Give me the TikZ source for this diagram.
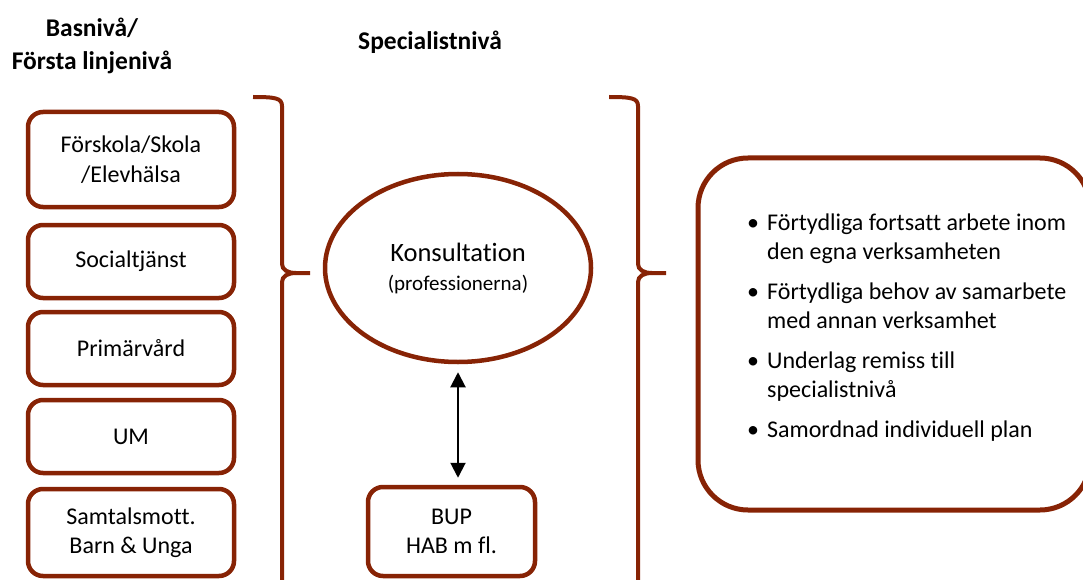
\documentclass[tikz,border=0pt]{standalone}
\usepackage{fontspec}
\setmainfont{Carlito}[Ligatures=CommonOff]
\usetikzlibrary{shapes.geometric,arrows.meta}
\definecolor{rust}{RGB}{135,35,5}
\tikzset{
  levelbox/.style={draw=rust, line width=4.5pt, rounded corners=15pt,
    minimum width=206pt, align=center, font=\fontsize{24}{29.5}\selectfont},
  bracket/.style={draw=rust, line width=4pt},
  heading/.style={font=\bfseries\fontsize{25.5}{33}\selectfont, align=center},
  twoway/.style={line width=2pt,
    {Triangle[width=15pt,length=15pt]}-{Triangle[width=15pt,length=15pt]}},
}
\begin{document}
\begin{tikzpicture}[x=1pt,y=-1pt]
\useasboundingbox (0,0) rectangle (1083,580);
\clip (0,0) rectangle (1083,580);
% rubriker
\node[heading] (bas) at (92,46) {Basnivå/\\Första linjenivå};
\node[heading] (spec) at (430,42) {Specialistnivå};
% basnivå
\node[levelbox, minimum height=95pt] (skola) at (131,159.5) {Förskola/Skola\\/Elevhälsa};
\node[levelbox, minimum height=73pt] (soc) at (131,261.5) {Socialtjänst};
\node[levelbox, minimum height=73pt] (prim) at (131,348.5) {Primärvård};
\node[levelbox, minimum height=73pt] (um) at (131,436.5) {UM};
\node[levelbox, minimum height=87pt] (samt) at (131,532.5) {Samtalsmott.\\Barn \& Unga};
% klammerparenteser
\foreach \bx in {282,638} {
  \draw[bracket] (\bx-29,97) .. controls (\bx-7,97) and (\bx,98) .. (\bx,106)
    -- (\bx,264) .. controls (\bx,270) and (\bx+6,273) .. (\bx+14,273) -- (\bx+28,273);
  \draw[bracket] (\bx+14,273) .. controls (\bx+6,273) and (\bx,276) .. (\bx,282) -- (\bx,590);
}
% specialistnivå
\node[draw=rust, line width=4.5pt, ellipse, minimum width=266pt, minimum height=188pt,
  inner sep=0pt, align=center, font=\fontsize{26.5}{29}\selectfont] (kons) at (458,268)
  {Konsultation\\{\fontsize{21}{29}\selectfont (professionerna)}};
\node[levelbox, minimum width=167pt, minimum height=89pt] (bup) at (451.5,531.5) {BUP\\HAB m fl.};
\draw[twoway] ([yshift=-8pt]kons.south) -- ([yshift=7pt]kons.south |- bup.north);
% resultat
\node[draw=rust, line width=5pt, rounded corners=50pt, minimum width=392pt,
  minimum height=352pt] (utfall) at (894,334) {};
\node[anchor=north west, inner sep=0pt, font=\fontsize{24}{29}\selectfont] (punkter) at (747,210) {%
  \renewcommand\arraystretch{1}%
  \begin{tabular}{@{}l@{\hspace{8pt}}l@{}}
  \textbullet & Förtydliga fortsatt arbete inom\\
   & den egna verksamheten\\[11pt]
  \textbullet & Förtydliga behov av samarbete\\
   & med annan verksamhet\\[11pt]
  \textbullet & Underlag remiss till\\
   & specialistnivå\\[11pt]
  \textbullet & Samordnad individuell plan
  \end{tabular}};
\end{tikzpicture}
\end{document}
